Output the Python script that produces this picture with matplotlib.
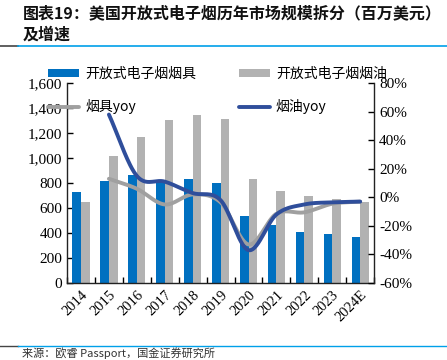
import matplotlib.pyplot as plt
import numpy as np
from matplotlib.ticker import FuncFormatter

plt.rcParams["font.family"] = ["Noto Sans CJK SC", "DejaVu Sans"]

years = ["2014", "2015", "2016", "2017", "2018", "2019", "2020", "2021", "2022", "2023", "2024E"]
device = [725, 813, 861, 815, 832, 803, 536, 464, 405, 389, 368]
eliquid = [650, 1016, 1171, 1304, 1344, 1315, 832, 736, 696, 670, 650]
device_yoy = [None, 13, 6, -5, 2, -3.5, -33, -11.5, -10.5, -4.5, -3]
eliquid_yoy = [None, 58, 15, 11, 3, -2, -37, -12, -5, -3.5, -3]

BLUE = "#0070C0"
GRAY = "#B2B2B2"
LINE_BLUE = "#2F4E9B"
LINE_GRAY = "#A0A0A0"
SERIF = "Liberation Serif"


def smooth(xs, ys, n=30):
    """Catmull-Rom curve through the points, like Excel's smoothed line"""
    xs = np.asarray(xs, float)
    ys = np.asarray(ys, float)
    px = np.concatenate([[2 * xs[0] - xs[1]], xs, [2 * xs[-1] - xs[-2]]])
    py = np.concatenate([[2 * ys[0] - ys[1]], ys, [2 * ys[-1] - ys[-2]]])
    out_x, out_y = [], []
    t = np.linspace(0, 1, n)
    for i in range(1, len(px) - 2):
        for p, out in ((px, out_x), (py, out_y)):
            p0, p1, p2, p3 = p[i - 1], p[i], p[i + 1], p[i + 2]
            seg = 0.5 * (2 * p1 + (-p0 + p2) * t
                         + (2 * p0 - 5 * p1 + 4 * p2 - p3) * t ** 2
                         + (-p0 + 3 * p1 - 3 * p2 + p3) * t ** 3)
            out.extend(seg)
    return np.array(out_x), np.array(out_y)


fig = plt.figure(figsize=(4.47, 3.6), dpi=100)
ax = fig.add_axes([0.150, 0.214, 0.687, 0.555])
ax2 = ax.twinx()

x = np.arange(len(years))
w = 0.31
b1 = ax.bar(x - w / 2, device, w, color=BLUE, label="开放式电子烟烟具", zorder=2)
b2 = ax.bar(x + w / 2, eliquid, w, color=GRAY, label="开放式电子烟烟油", zorder=2)

xs = x[1:]
gx, gy = smooth(xs, device_yoy[1:])
l1, = ax2.plot(gx, gy, color=LINE_GRAY, lw=2.8, label="烟具yoy", solid_capstyle="round")
bx, by = smooth(xs, eliquid_yoy[1:])
l2, = ax2.plot(bx, by, color=LINE_BLUE, lw=2.8, label="烟油yoy", solid_capstyle="round")

ax.set_xlim(-0.5, len(years) - 0.5)
ax.set_ylim(0, 1600)
ax.set_yticks(range(0, 1601, 200))
ax.yaxis.set_major_formatter(FuncFormatter(lambda v, p: f"{int(v):,}"))
ax2.set_ylim(-60, 80)
ax2.set_yticks(range(-60, 81, 20))
ax2.yaxis.set_major_formatter(FuncFormatter(lambda v, p: f"{int(v)}%"))

ax.set_xticks(x)
ax.set_xticklabels(years, rotation=45, ha="right", rotation_mode="anchor",
                   fontfamily=SERIF, fontsize=10.5)
ax.set_xticks(np.arange(-0.5, len(years), 1), minor=True)
ax.tick_params(axis="x", which="major", length=0, pad=4)
ax.tick_params(axis="x", which="minor", direction="in", length=4, width=1)
ax.tick_params(axis="y", direction="in", length=4, width=1)
ax2.tick_params(axis="y", direction="in", length=4, width=1)
for lab in ax.get_yticklabels() + ax2.get_yticklabels():
    lab.set_fontfamily(SERIF)
    lab.set_fontsize(11)

for a in (ax, ax2):
    a.spines["top"].set_visible(False)
    for s in ("left", "right", "bottom"):
        a.spines[s].set_linewidth(1)
        a.spines[s].set_color("#222222")
ax.spines["right"].set_visible(False)
ax2.spines["left"].set_visible(False)
ax2.spines["bottom"].set_visible(False)

fig.legend([b1, l1, b2, l2],
           ["开放式电子烟烟具", "烟具yoy", "开放式电子烟烟油", "烟油yoy"],
           ncol=2, loc="upper left", bbox_to_anchor=(0.108, 0.815),
           frameon=False, fontsize=10, handlelength=2.2, handleheight=0.5,
           handletextpad=0.45, labelspacing=1.35, columnspacing=3.1,
           borderaxespad=0, borderpad=0)

# title and rules
fig.text(0.05, 0.962, "图表19：美国开放式电子烟历年市场规模拆分（百万美元）",
         fontsize=11.5, fontweight="bold", va="center", color="#111111")
fig.text(0.05, 0.905, "及增速", fontsize=11.5, fontweight="bold",
         va="center", color="#111111")
fig.add_artist(plt.Line2D([0, 0.04], [0.872, 0.872], color="#444444", lw=1.2))
fig.add_artist(plt.Line2D([0.04, 1], [0.872, 0.872], color="#00A0E9", lw=1.2))
fig.add_artist(plt.Line2D([0, 0.04], [0.04, 0.04], color="#444444", lw=1))
fig.add_artist(plt.Line2D([0.04, 1], [0.04, 0.04], color="#00A0E9", lw=1))
fig.text(0.05, 0.004, "来源：欧睿 Passport，国金证券研究所", fontsize=8, va="bottom",
         color="#333333")

fig.savefig("out.png", dpi=100)
